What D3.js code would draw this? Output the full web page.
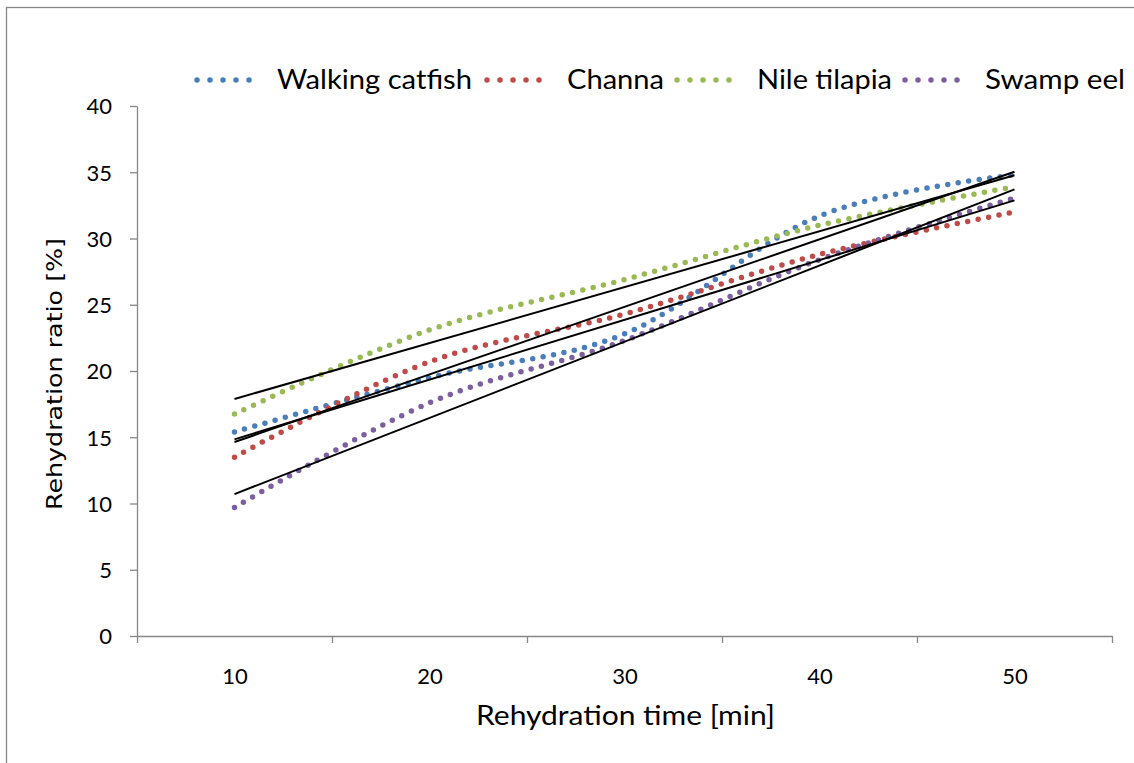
<!DOCTYPE html>
<html lang="en">
<head>
	<meta charset="UTF-8">
	<title>Rehydration ratio</title>
	<script src="https://d3js.org/d3.v7.min.js"></script>
	<style>
		body, html {
			margin: 0;
			padding: 0;
			background: #fff;
			overflow: hidden;
		}
		svg {
			display: block;
		}
		.axis path, .axis line {
			stroke: #868686;
			stroke-width: 1.3;
		}
		.axis text {
			font-family: Lato, "Open Sans", sans-serif;
			font-size: 22px;
			fill: #000;
		}
		.label {
			font-family: Lato, sans-serif;
			font-size: 26px;
			fill: #000;
		}
	</style>
</head>
<body>
<div id="chart"></div>
<script>
	// Data
	const times = [10, 20, 30, 40, 50];
	const seriesNames = ["Walking catfish", "Channa", "Nile tilapia", "Swamp eel"];
	const seriesColors = ["#4a7ebb", "#be4b48", "#98b954", "#7d5fa0"];
	const walkingCatfish = [15.4, 19.5, 22.8, 31.7, 34.8];
	const channa = [13.5, 20.7, 24.3, 28.8, 32.0];
	const nileTilapia = [16.75, 23.1, 26.9, 31.0, 33.9];
	const swampEel = [9.7, 17.6, 22.3, 28.4, 33.05];
	const yTicks = [0, 5, 10, 15, 20, 25, 30, 35, 40];

	const seriesValues = [walkingCatfish, channa, nileTilapia, swampEel];

	const width = 1134, height = 763;
	const plotLeft = 137, plotRight = 1112, plotTop = 106, plotBottom = 636;

	const svg = d3.select("#chart").append("svg")
		.attr("width", width)
		.attr("height", height);

	// outer chart border
	svg.append("rect")
		.attr("x", 6.5).attr("y", 7.5)
		.attr("width", width + 20).attr("height", height + 20)
		.attr("fill", "none")
		.attr("stroke", "#868686")
		.attr("stroke-width", 1.3);

	const x = d3.scalePoint()
		.domain(times)
		.range([plotLeft, plotRight])
		.padding(0.5);

	// category boundaries for the tick marks
	const xEdge = d3.scaleLinear().domain([0, times.length]).range([plotLeft, plotRight]);

	const y = d3.scaleLinear().domain([0, 40]).range([plotBottom, plotTop]);

	// y axis
	svg.append("g")
		.attr("class", "axis")
		.attr("transform", `translate(${plotLeft},0)`)
		.call(d3.axisLeft(y).tickValues(yTicks).tickSize(7).tickSizeOuter(0).tickPadding(18))
		.selectAll("text").attr("dy", "0.36em");

	// x axis: tick marks between categories
	svg.append("g")
		.attr("class", "axis")
		.attr("transform", `translate(0,${plotBottom})`)
		.call(d3.axisBottom(xEdge).tickValues(d3.range(times.length + 1)).tickSize(7).tickSizeOuter(0).tickFormat(""));

	// x axis labels at category centres
	const xLab = svg.append("g")
		.attr("class", "axis")
		.attr("transform", `translate(0,${plotBottom})`)
		.call(d3.axisBottom(x).tickSize(0).tickPadding(32));
	xLab.select(".domain").remove();

	// axis titles
	svg.append("text")
		.attr("class", "label")
		.attr("x", 476)
		.attr("y", 725)
		.attr("textLength", 299)
		.attr("lengthAdjust", "spacingAndGlyphs")
		.text("Rehydration time [min]");

	svg.append("text")
		.attr("transform", "translate(62,510) rotate(-90)")
		.attr("textLength", 272)
		.attr("lengthAdjust", "spacingAndGlyphs")
		.style("font-family", "'DejaVu Sans', Verdana, sans-serif")
		.style("font-size", "21px")
		.text("Rehydration ratio [%]");

	const line = d3.line()
		.x((d, i) => x(times[i]))
		.y(d => y(d))
		.curve(d3.curveCatmullRom.alpha(0));

	// dotted smoothed series
	seriesValues.forEach((vals, k) => {
		svg.append("path")
			.attr("d", line(vals))
			.attr("fill", "none")
			.attr("stroke", seriesColors[k])
			.attr("stroke-width", 5.5)
			.attr("stroke-linecap", "round")
			.attr("stroke-dasharray", "0 10.6");
	});

	// linear trend lines
	seriesValues.forEach(vals => {
		const xs = d3.range(1, vals.length + 1);
		const mx = d3.mean(xs), my = d3.mean(vals);
		const slope = d3.sum(xs, (v, i) => (v - mx) * (vals[i] - my)) / d3.sum(xs, v => (v - mx) * (v - mx));
		const b = my - slope * mx;
		const fit = xs.map(v => b + slope * v);
		svg.append("line")
			.attr("x1", x(times[0])).attr("y1", y(fit[0]))
			.attr("x2", x(times[times.length - 1])).attr("y2", y(fit[fit.length - 1]))
			.attr("stroke", "#000")
			.attr("stroke-width", 2);
	});

	// legend
	const legendX = [197, 487, 677, 905];
	const legendTextW = [195, 97, 135, 140];
	const legend = svg.append("g");
	seriesNames.forEach((name, k) => {
		legend.append("line")
			.attr("x1", legendX[k]).attr("x2", legendX[k] + 65)
			.attr("y1", 80).attr("y2", 80)
			.attr("stroke", seriesColors[k])
			.attr("stroke-width", 5.5)
			.attr("stroke-linecap", "round")
			.attr("stroke-dasharray", "0 13");
		legend.append("text")
			.attr("class", "label")
			.attr("x", legendX[k] + 80)
			.attr("y", 89)
			.attr("textLength", legendTextW[k])
			.attr("lengthAdjust", "spacingAndGlyphs")
			.text(name);
	});
</script>
</body>
</html>
